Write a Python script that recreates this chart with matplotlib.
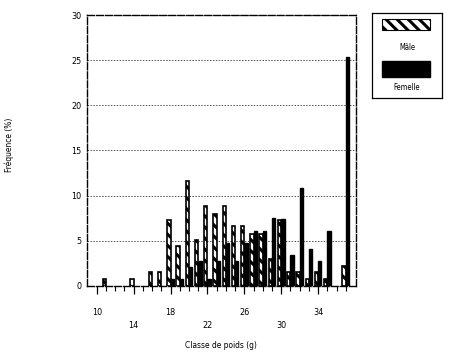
import matplotlib
matplotlib.use("Agg")
import matplotlib.pyplot as plt
from matplotlib.patches import Rectangle
import numpy as np

classes = list(range(10, 38))
male = [0, 0.8, 0, 0, 0.8, 0, 1.5, 1.5, 7.3, 4.4, 11.6, 5.1, 8.8, 8.0, 8.8,
        6.6, 6.6, 5.8, 5.8, 3.0, 7.3, 1.5, 1.5, 0.8, 1.5, 0.8, 0, 2.2]
female = [0, 0, 0, 0, 0, 0, 0, 0, 0.8, 0.8, 2.1, 2.8, 0.8, 2.8, 4.8,
          2.8, 4.8, 6.1, 6.1, 7.5, 7.4, 3.4, 10.8, 4.1, 2.8, 6.1, 0, 25.4]
xtick_labels = [10, 14, 18, 22, 26, 30, 34]
ytick_labels = [0, 5, 10, 15, 20, 25, 30]
legend_labels = ["Mâle", "Femelle"]

plt.rcParams['font.family'] = ['DejaVu Sans']
plt.rcParams['hatch.linewidth'] = 2.2

fig = plt.figure(figsize=(4.5, 3.53), dpi=100)
ax = fig.add_axes([0.193, 0.190, 0.598, 0.7675])

w = 0.36
x = np.array(classes, dtype=float)
m = np.array(male)
f = np.array(female)
mk = m > 0
fk = f > 0
ax.bar(x[mk] - w / 2, m[mk], width=w, facecolor='white', edgecolor='black',
       hatch='\\\\\\', linewidth=1.2, zorder=3)
ax.bar(x[fk] + w / 2, f[fk], width=w, facecolor='black', edgecolor='black',
       linewidth=1.0, zorder=3)

ax.set_xlim(8.92, 38.1)
ax.set_ylim(0, 30)
ax.set_yticks(ytick_labels)
ax.set_yticklabels([str(v) for v in ytick_labels], fontsize=6.5, stretch='condensed')
ax.tick_params(axis='y', length=0, pad=4)
ax.yaxis.grid(True, linestyle=(0, (1.5, 1.5)), color='#555555', linewidth=0.7)
ax.set_axisbelow(True)

ax.set_xticks(xtick_labels)
ax.set_xticks(classes, minor=True)
ax.set_xticklabels([str(v) for v in xtick_labels], fontsize=6.5, stretch='condensed')
ax.tick_params(axis='x', which='major', length=6, width=0.9, direction='out', pad=10)
ax.tick_params(axis='x', which='minor', length=3.5, width=0.8, direction='out')
for i, t in enumerate(ax.xaxis.get_major_ticks()):
    if i % 2 == 1:
        t.set_pad(19)

for s in ax.spines.values():
    s.set_linestyle((0, (5, 1.5)))
    s.set_linewidth(1.0)

ax.set_xlabel("Classe de poids (g)", fontsize=6, stretch='condensed', labelpad=8)
fig.text(0.02, 0.59, "Fréquence (%)", rotation=90, fontsize=6, ha='center', va='center',
         stretch='condensed')

# legend box
lax = fig.add_axes([0.827, 0.722, 0.155, 0.241])
lax.set_xlim(0, 1)
lax.set_ylim(0, 1)
lax.set_xticks([])
lax.set_yticks([])
for s in lax.spines.values():
    s.set_linewidth(0.9)
lax.add_patch(Rectangle((0.14, 0.80), 0.69, 0.13, facecolor='white', edgecolor='black',
                        hatch='\\\\\\', linewidth=0.8))
lax.text(0.5, 0.59, legend_labels[0], fontsize=5.5, ha='center', va='center', stretch='condensed')
lax.add_patch(Rectangle((0.14, 0.25), 0.69, 0.19, facecolor='black', edgecolor='black'))
lax.text(0.5, 0.12, legend_labels[1], fontsize=5.5, ha='center', va='center', stretch='condensed')

fig.savefig("out.png", dpi=100)
